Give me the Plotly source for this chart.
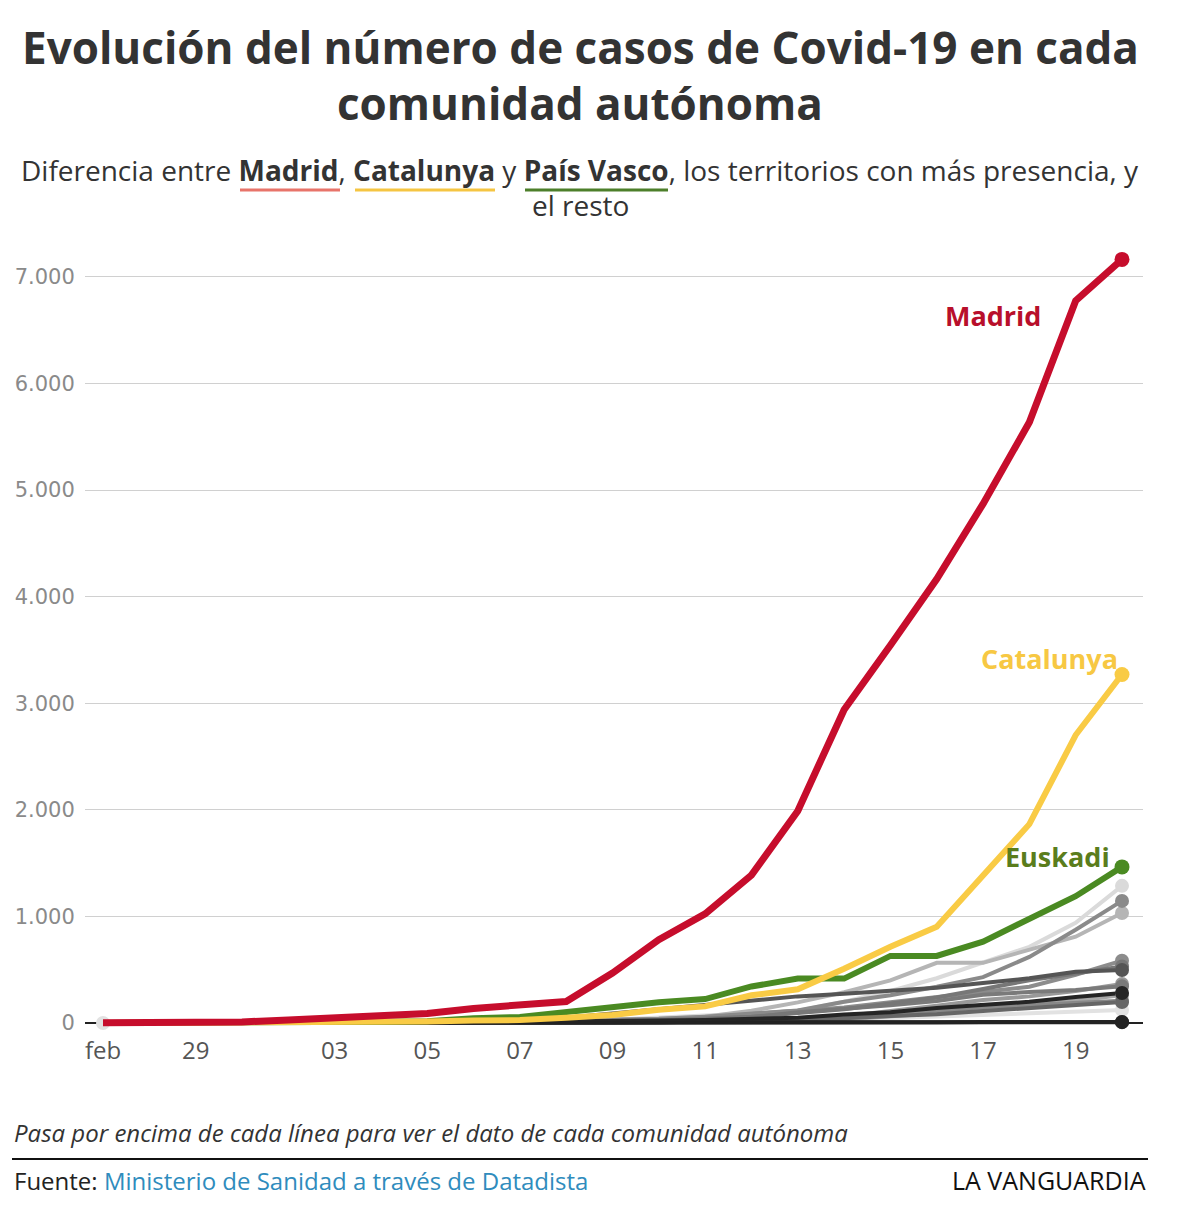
import plotly.graph_objects as go

# ---------------- data ----------------
dates = ["2020-02-27", "2020-02-28", "2020-02-29", "2020-03-01", "2020-03-02",
         "2020-03-03", "2020-03-04", "2020-03-05", "2020-03-06", "2020-03-07",
         "2020-03-08", "2020-03-09", "2020-03-10", "2020-03-11", "2020-03-12",
         "2020-03-13", "2020-03-14", "2020-03-15", "2020-03-16", "2020-03-17",
         "2020-03-18", "2020-03-19", "2020-03-20"]

madrid = [2, 2, 3, 10, 29, 49, 70, 90, 137, 174, 202, 469, 782, 1024, 1388,
          1990, 2940, 3544, 4165, 4871, 5637, 6777, 7165]
catalunya = [1, 1, 2, 6, 12, 15, 15, 15, 24, 28, 49, 75, 124, 156, 260,
             316, 509, 715, 903, 1394, 1866, 2702, 3270]
euskadi = [0, 0, 0, 2, 3, 9, 13, 17, 45, 57, 102, 149, 195, 225, 343,
           417, 417, 630, 630, 764, 971, 1190, 1465]

andalucia = [0, 0, 1, 1, 6, 8, 12, 12, 13, 13, 20, 30, 54, 71, 90, 115, 200, 300, 420, 570, 715, 940, 1287]
castilla_la_mancha = [0, 0, 0, 0, 1, 3, 6, 7, 12, 17, 20, 26, 39, 59, 115, 194, 289, 400, 565, 565, 685, 810, 1033]
castilla_y_leon = [0, 0, 0, 0, 2, 3, 3, 3, 8, 11, 20, 30, 40, 60, 88, 117, 200, 260, 340, 430, 620, 875, 1146]
galicia = [0, 0, 0, 1, 1, 1, 1, 3, 3, 4, 6, 18, 22, 35, 85, 115, 146, 195, 245, 292, 341, 453, 585]
la_rioja = [0, 0, 0, 1, 3, 5, 5, 5, 11, 23, 50, 90, 130, 175, 215, 250, 275, 300, 330, 375, 420, 480, 498]
navarra = [0, 0, 0, 0, 1, 1, 2, 3, 3, 8, 10, 14, 25, 42, 58, 93, 130, 183, 240, 320, 401, 465, 530]
aragon = [0, 0, 0, 0, 1, 1, 1, 1, 1, 2, 3, 4, 5, 16, 25, 43, 64, 110, 162, 215, 250, 300, 366]
asturias = [0, 0, 0, 0, 0, 0, 1, 1, 3, 4, 4, 5, 11, 31, 54, 100, 130, 166, 206, 266, 290, 310, 344]
canarias = [1, 1, 1, 1, 2, 6, 6, 7, 9, 11, 12, 14, 23, 28, 40, 50, 80, 100, 140, 170, 200, 245, 282]
extremadura = [0, 0, 0, 0, 1, 1, 1, 4, 6, 6, 6, 8, 9, 12, 14, 25, 32, 58, 93, 142, 180, 210, 262]
murcia = [0, 0, 0, 0, 0, 0, 1, 1, 1, 2, 2, 4, 8, 11, 16, 34, 44, 65, 83, 112, 140, 170, 197]
cantabria = [0, 0, 0, 0, 0, 0, 0, 1, 1, 1, 10, 10, 12, 13, 24, 36, 60, 76, 112, 150, 170, 190, 208]
baleares = [0, 0, 0, 0, 0, 2, 5, 6, 6, 6, 7, 9, 11, 13, 16, 22, 30, 45, 60, 75, 90, 105, 122]
ceuta = [0, 0, 0, 0, 0, 0, 0, 0, 0, 0, 0, 0, 0, 0, 0, 1, 1, 3, 3, 3, 5, 5, 8]
melilla = [0, 0, 0, 0, 0, 0, 0, 0, 0, 0, 0, 1, 1, 2, 3, 5, 6, 8, 8, 10, 10, 10, 10]

grey_series = [
    ("Andalucía", andalucia, "#dadada"),
    ("Baleares", baleares, "#e2e2e2"),
    ("Castilla-La Mancha", castilla_la_mancha, "#b5b5b5"),
    ("Extremadura", extremadura, "#a8a8a8"),
    ("Aragón", aragon, "#999999"),
    ("Galicia", galicia, "#8c8c8c"),
    ("Castilla y León", castilla_y_leon, "#8a8a8a"),
    ("Cantabria", cantabria, "#888888"),
    ("Asturias", asturias, "#7a7a7a"),
    ("Navarra", navarra, "#777777"),
    ("Murcia", murcia, "#666666"),
    ("La Rioja", la_rioja, "#555555"),
    ("Canarias", canarias, "#252525"),
    ("Melilla", melilla, "#2a2a2a"),
    ("Ceuta", ceuta, "#222222"),
]

tick_dates = ["2020-02-27", "2020-02-29", "2020-03-03", "2020-03-05", "2020-03-07",
              "2020-03-09", "2020-03-11", "2020-03-13", "2020-03-15", "2020-03-17",
              "2020-03-19"]
tick_labels = ["feb", "29", "03", "05", "07", "09", "11", "13", "15", "17", "19"]

y_ticks = [0, 1000, 2000, 3000, 4000, 5000, 6000, 7000]

# ---------------- figure ----------------
W, H = 1180, 1214
ML, MR, MT, MB = 85, 37, 245, 180


def px_x(px):
    return (px - ML) / (W - ML - MR)


def px_y(py):
    return (H - MB - py) / (H - MT - MB)


fig = go.Figure()

for name, vals, col in grey_series:
    fig.add_trace(go.Scatter(x=dates, y=vals, mode="lines", name=name,
                             line=dict(color=col, width=4), hoverinfo="x+y+name"))
for name, vals, col in grey_series:
    fig.add_trace(go.Scatter(x=[dates[-1]], y=[vals[-1]], mode="markers", name=name,
                             marker=dict(color=col, size=14), hoverinfo="skip"))

# start dot of the lightest series
fig.add_trace(go.Scatter(x=[dates[0]], y=[baleares[0]], mode="markers",
                         marker=dict(color="#e2e2e2", size=14), hoverinfo="skip"))

main_series = [
    ("País Vasco", euskadi, "#4a8a22", 6),
    ("Catalunya", catalunya, "#f9cb45", 6),
    ("Madrid", madrid, "#c60d2c", 7),
]
for name, vals, col, w in main_series:
    fig.add_trace(go.Scatter(x=dates, y=vals, mode="lines", name=name,
                             line=dict(color=col, width=w)))
    fig.add_trace(go.Scatter(x=[dates[-1]], y=[vals[-1]], mode="markers", name=name,
                             marker=dict(color=col, size=15), hoverinfo="skip"))

fig.update_layout(
    width=W, height=H,
    margin=dict(l=ML, r=MR, t=MT, b=MB),
    paper_bgcolor="white", plot_bgcolor="white",
    showlegend=False,
    separators=",.",
    font=dict(family="Open Sans", color="#333333"),
    xaxis=dict(
        type="date",
        range=["2020-02-26 14:40", "2020-03-20 10:53"],
        tickmode="array", tickvals=tick_dates, ticktext=tick_labels,
        showgrid=False, zeroline=False, showline=False,
        ticks="", tickfont=dict(family="Open Sans", size=24, color="#555555"),
        fixedrange=True,
    ),
    yaxis=dict(
        range=[-103, 7300],
        tickmode="array", tickvals=y_ticks, tickformat=",d",
        showgrid=True, gridcolor="#d0d0d0", gridwidth=1,
        zeroline=True, zerolinecolor="#222222", zerolinewidth=2,
        showline=False,
        ticks="outside", ticklen=5, tickcolor="rgba(0,0,0,0)",
        tickfont=dict(family="DejaVu Sans", size=21, color="#8a8a8a"),
        fixedrange=True,
    ),
)

annotations = [
    dict(text="<b>Evolución del número de casos de Covid-19 en cada</b>", x=px_x(580), y=px_y(47),
         font=dict(family="Open Sans", size=44, color="#333333")),
    dict(text="<b>comunidad autónoma</b>", x=px_x(580), y=px_y(103),
         font=dict(family="Open Sans", size=44, color="#333333")),
    dict(text="Diferencia entre <b>Madrid</b>, <b>Catalunya</b> y <b>País Vasco</b>, los territorios con más presencia, y",
         x=px_x(580), y=px_y(170), font=dict(family="Open Sans", size=28, color="#333333")),
    dict(text="el resto", x=px_x(580), y=px_y(205),
         font=dict(family="Open Sans", size=28, color="#333333")),
    dict(text="<i>Pasa por encima de cada línea para ver el dato de cada comunidad autónoma</i>",
         x=px_x(12), y=px_y(1132), xanchor="left",
         font=dict(family="Open Sans", size=24, color="#333333")),
    dict(text="Fuente: <span style='color:#2f8cbd'>Ministerio de Sanidad a través de Datadista</span>",
         x=px_x(12), y=px_y(1180), xanchor="left",
         font=dict(family="Open Sans", size=24, color="#222222")),
    dict(text="LA VANGUARDIA", x=px_x(1148), y=px_y(1180), xanchor="right",
         font=dict(family="Open Sans", size=25, color="#111111")),
]
for a in annotations:
    a.setdefault("xanchor", "center")
    fig.add_annotation(xref="paper", yref="paper", yanchor="middle", showarrow=False, **a)

# series labels (data coordinates)
fig.add_annotation(x="2020-03-18 07:00", y=6634, xref="x", yref="y", xanchor="right", yanchor="middle",
                   text="<b>Madrid</b>", showarrow=False,
                   font=dict(family="Open Sans", size=27, color="#b80f2b"))
fig.add_annotation(x="2020-03-19 23:00", y=3416, xref="x", yref="y", xanchor="right", yanchor="middle",
                   text="<b>Catalunya</b>", showarrow=False,
                   font=dict(family="Open Sans", size=27, color="#f7c843"))
fig.add_annotation(x="2020-03-19 19:00", y=1558, xref="x", yref="y", xanchor="right", yanchor="middle",
                   text="<b>Euskadi</b>", showarrow=False,
                   font=dict(family="Open Sans", size=27, color="#5a7d1c"))

# underlines and footer rule
shapes = [
    (240, 340, 190, "#e8746a"),
    (355, 495, 190, "#f5c542"),
    (525, 668, 190, "#4d7f2a"),
]
for x0, x1, yy, col in shapes:
    fig.add_shape(type="line", xref="paper", yref="paper", x0=px_x(x0), x1=px_x(x1),
                  y0=px_y(yy), y1=px_y(yy), line=dict(color=col, width=3))
fig.add_shape(type="line", xref="paper", yref="paper", x0=px_x(12), x1=px_x(1148),
              y0=px_y(1159), y1=px_y(1159), line=dict(color="#111111", width=2))

fig.write_html("out.html")
